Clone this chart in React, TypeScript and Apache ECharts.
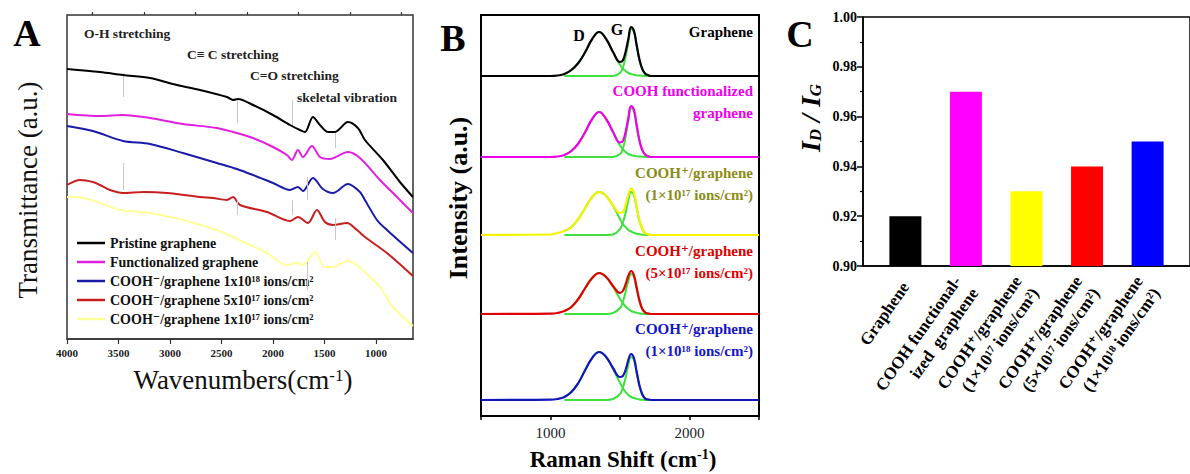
import React, { useEffect, useRef } from 'react';
import * as echarts from 'echarts';

const SERIF = '"Liberation Serif", "Times New Roman", "DejaVu Serif", serif';

// ---------------- Panel A (FTIR) ----------------
const A_NAMES = [
  'Pristine graphene',
  'Functionalized graphene',
  'COOH⁻/graphene 1x10¹⁸ ions/cm²',
  'COOH⁻/graphene 5x10¹⁷ ions/cm²',
  'COOH⁻/graphene 1x10¹⁷ ions/cm²',
];
const A_COLORS = ['#000000', '#e020e0', '#1a1aaa', '#c81e1e', '#ffff99'];
const A_PRISTINE = [[4000,270],[3680,267],[3456,264],[3194,261],[2932,254],[2709,249],[2447,242],[2388,239],[2340,240],[2194,234],[2000,224],[1835,214],[1738,209],[1689,207],[1612,222],[1544,214],[1466,207],[1398,207],[1272,217],[1175,211],[1107,199],[932,179],[767,157],[641,142]];
const A_FUNCTIONALIZED = [[4000,225],[3680,223],[3456,224],[3194,221],[2874,215],[2544,211],[2388,207],[2194,201],[2000,192],[1864,184],[1816,179],[1757,189],[1709,182],[1621,193],[1544,182],[1447,180],[1272,187],[1155,181],[961,159],[796,142],[641,126]];
const A_1E18 = [[4000,213],[3748,208],[3456,198],[3194,195],[2874,186],[2544,176],[2350,170],[2194,164],[2000,156],[1835,149],[1757,152],[1709,148],[1612,161],[1515,150],[1417,146],[1272,155],[1155,147],[1107,139],[990,119],[893,109],[641,86]];
const A_5E17 = [[4000,154],[3874,159],[3748,157],[3680,154],[3583,149],[3456,146],[3252,147],[3029,146],[2709,142],[2583,141],[2447,139],[2388,142],[2320,134],[2058,127],[1835,118],[1757,122],[1660,116],[1573,129],[1495,117],[1417,114],[1282,116],[1184,109],[1107,102],[893,86],[641,63]];
const A_1E17 = [[4000,142],[3835,141],[3680,136],[3485,129],[3194,126],[2874,119],[2544,109],[2388,102],[2223,94],[2058,86],[1864,74],[1767,76],[1709,74],[1592,87],[1495,72],[1417,72],[1272,78],[1155,72],[1107,67],[961,52],[835,32],[641,13]];
const A_TICK_LABELS = [4000, 3500, 3000, 2500, 2000, 1500, 1000];
const A_MINOR_TICKS = [3750, 3250, 2750, 2250, 1750, 1250, 750];
// grey guide markers: [wavenumber, from, to]
const A_MARKERS = [[3456,266,242],[3456,176,149],[2350,239,216],[2350,139,124],[1816,239,212],[1816,139,124],[1670,162,139],[1670,77,49],[1398,207,191],[1398,121,99]];
const A_NOTES = ['O-H stretching', 'C≡ C stretching', 'C=O stretching', 'skeletal vibration'];

// ---------------- Panel B (Raman) ----------------
const B_X = [1000,1050,1100,1150,1200,1250,1300,1350,1400,1450,1500,1520,1540,1560,1580,1600,1620,1640,1660,1680,1700,1725];
const B_D_GRAPHENE = [0,0.5,2,6,13,24,37,44,37,24,11,7.5,5,3,2,1.2,0.7,0.4,0.2,0.1,0,0];
const B_G_GRAPHENE = [0,0,0,0,0,0,0,0,0,0,3,8,19,34,47,44,30,16,7,2.5,1,0];
const B_D_COOH = [0,0.5,2,6,13.5,25,38,45,38,25,11.5,8,5,3,2,1.2,0.7,0.4,0.2,0.1,0,0];
const B_G_COOH = [0,0,0,0,0,0,0,0,0,0,3,8,20,36,49,46,31,16,7,2.5,1,0];
const B_D_1E17 = [0.5,2,4,8,16,27,38,43,39,29,16,11,8,5,3.5,2.2,1.3,0.7,0.3,0.1,0,0];
const B_G_1E17 = [0,0,0,0,0,0,0,0,0,0.5,6,12,22,35,43,40,27,14,6,2,0.5,0];
const B_D_5E17 = [0.3,1,3,7,15,26,36,41,37,27,15,11,7.5,5,3,2,1.2,0.6,0.3,0.1,0,0];
const B_G_5E17 = [0,0,0,0,0,0,0,0,0,1,6,12,22,33,40,37,25,13,5,1.5,0.5,0];
const B_D_1E18 = [0.3,1,3,8,17,30,42,48,43,31,17,12,8,5,3,2,1.2,0.6,0.3,0.1,0,0];
const B_G_1E18 = [0,0,0,0,0,0,0,0,0,1,6,12,22,35,43,40,27,14,5.5,1.5,0.5,0];
const B_OFFSETS = [340, 259, 181, 102, 16];
const B_COLORS = ['#000000', '#ee00ee', '#f4f400', '#e00000', '#1414c0'];
const B_TEXT_COLORS = ['#000000', '#ee00ee', '#8c8c14', '#e00000', '#1414c8'];
const B_LABELS = [
  ['Graphene'],
  ['COOH functionalized', 'graphene'],
  ['COOH⁺/graphene', '(1×10¹⁷ ions/cm²)'],
  ['COOH⁺/graphene', '(5×10¹⁷ ions/cm²)'],
  ['COOH⁺/graphene', '(1×10¹⁸ ions/cm²)'],
];
const B_TICK_LABELS = [1000, 2000];

// ---------------- Panel C (ID/IG) ----------------
const C_LABELS = [
  'Graphene',
  'COOH functional-\nized  graphene',
  'COOH⁺/graphene\n(1×10¹⁷ ions/cm²)',
  'COOH⁺/graphene\n(5×10¹⁷ ions/cm²)',
  'COOH⁺/graphene\n(1×10¹⁸ ions/cm²)',
];
const C_VALUES = [0.92, 0.97, 0.93, 0.94, 0.95];
const C_COLORS = ['#000000', '#ff00ff', '#ffff00', '#ff0000', '#0000ff'];

function buildOption() {
  const aData = [A_PRISTINE, A_FUNCTIONALIZED, A_1E18, A_5E17, A_1E17];
  const aSeries: any[] = aData.map((d, i) => ({
    type: 'line',
    name: A_NAMES[i],
    xAxisIndex: 0,
    yAxisIndex: 0,
    data: d,
    symbol: 'none',
    smooth: 0.3,
    lineStyle: { color: A_COLORS[i], width: 2 },
    itemStyle: { color: A_COLORS[i] },
    z: 5 - i,
    ...(i === 0
      ? {
          markLine: {
            silent: true,
            symbol: ['none', 'none'],
            label: { show: false },
            lineStyle: { color: '#c8c8c8', width: 1, type: 'solid' },
            data: A_MARKERS.map(([x, a, b]) => [{ coord: [x, a] }, { coord: [x, b] }]),
          },
        }
      : {}),
  }));

  const bSpectra = [
    { d: B_D_GRAPHENE, g: B_G_GRAPHENE },
    { d: B_D_COOH, g: B_G_COOH },
    { d: B_D_1E17, g: B_G_1E17 },
    { d: B_D_5E17, g: B_G_5E17 },
    { d: B_D_1E18, g: B_G_1E18 },
  ];
  const bSeries: any[] = [];
  bSpectra.forEach((sp, i) => {
    const off = B_OFFSETS[i];
    const env = [[500, off], ...B_X.map((x, k) => [x, off + sp.d[k] + sp.g[k]]), [2500, off]];
    const dC = B_X.slice(2).map((x, k) => [x, off + sp.d[k + 2]]);
    const gC = B_X.slice(2).map((x, k) => [x, off + sp.g[k + 2]]);
    const common = { type: 'line', xAxisIndex: 2, yAxisIndex: 1, symbol: 'none', smooth: 0.45 };
    bSeries.push({ ...common, name: 'bd' + i, data: dC, lineStyle: { color: '#3de03d', width: 2 }, z: 2 });
    bSeries.push({ ...common, name: 'bg' + i, data: gC, lineStyle: { color: '#3de03d', width: 2 }, z: 2 });
    bSeries.push({ ...common, name: 'be' + i, data: env, lineStyle: { color: B_COLORS[i], width: 2.2 }, z: 3 });
  });

  const cSeries = {
    type: 'bar',
    name: 'ratio',
    xAxisIndex: 3,
    yAxisIndex: 2,
    barWidth: 32,
    data: C_VALUES.map((v, i) => ({ value: [i + 1, v], itemStyle: { color: C_COLORS[i] } })),
  };

  const graphic: any[] = [];
  const letter = (t: string, x: number, y: number) => ({
    type: 'text', x, y,
    style: { text: t, fontFamily: SERIF, fontWeight: 'bold', fontSize: 38, fill: '#000', align: 'center', verticalAlign: 'middle' },
  });
  graphic.push(letter('A', 27, 33), letter('B', 453, 38), letter('C', 800, 34));
  // Panel A titles
  graphic.push({
    type: 'text', x: 28, y: 190, rotation: Math.PI / 2,
    style: { text: 'Transmittance (a.u.)', fontFamily: SERIF, fontSize: 27, fill: '#111', align: 'center', verticalAlign: 'middle' },
  });
  graphic.push({
    type: 'text', x: 243, y: 380,
    style: {
      text: '{n|Wavenumbers(cm}{s|-1}{n|)}', align: 'center', verticalAlign: 'middle',
      rich: {
        n: { fontFamily: SERIF, fontSize: 27, fill: '#111' },
        s: { fontFamily: SERIF, fontSize: 17, fill: '#111', verticalAlign: 'top' },
      },
    },
  });
  const notePos = [[84, 33], [187, 54], [250, 75], [297, 97]];
  A_NOTES.forEach((t, i) => {
    graphic.push({
      type: 'text', x: notePos[i][0], y: notePos[i][1],
      style: { text: t, fontFamily: SERIF, fontWeight: 'bold', fontSize: 13.5, fill: '#222', align: 'left', verticalAlign: 'middle' },
    });
  });
  // Panel B titles
  graphic.push({
    type: 'text', x: 458, y: 198, rotation: Math.PI / 2,
    style: { text: 'Intensity (a.u.)', fontFamily: SERIF, fontWeight: 'bold', fontSize: 26, fill: '#000', align: 'center', verticalAlign: 'middle' },
  });
  graphic.push({
    type: 'text', x: 623, y: 459,
    style: {
      text: '{n|Raman Shift (cm}{s|-1}{n|)}', align: 'center', verticalAlign: 'middle',
      rich: {
        n: { fontFamily: SERIF, fontWeight: 'bold', fontSize: 23, fill: '#000' },
        s: { fontFamily: SERIF, fontWeight: 'bold', fontSize: 14, fill: '#000', verticalAlign: 'top' },
      },
    },
  });
  const bLabelY = [32, 91, 173, 251, 329];
  B_LABELS.forEach((lines, i) => {
    lines.forEach((t, j) => {
      graphic.push({
        type: 'text', x: 753, y: bLabelY[i] + j * 22,
        style: { text: t, fontFamily: SERIF, fontWeight: 'bold', fontSize: 15, fill: B_TEXT_COLORS[i], align: 'right', verticalAlign: 'middle' },
      });
    });
  });
  graphic.push({
    type: 'text', x: 579, y: 35,
    style: { text: 'D', fontFamily: SERIF, fontWeight: 'bold', fontSize: 16, fill: '#000', align: 'center', verticalAlign: 'middle' },
  });
  graphic.push({
    type: 'text', x: 617, y: 29,
    style: { text: 'G', fontFamily: SERIF, fontWeight: 'bold', fontSize: 16, fill: '#000', align: 'center', verticalAlign: 'middle' },
  });
  // Panel C title
  graphic.push({
    type: 'text', x: 810, y: 118, rotation: Math.PI / 2,
    style: {
      text: '{i|I}{d|D}{i| / I}{d|G}', align: 'center', verticalAlign: 'middle',
      rich: {
        i: { fontFamily: SERIF, fontWeight: 'bold', fontStyle: 'italic', fontSize: 28, fill: '#000' },
        d: { fontFamily: SERIF, fontWeight: 'bold', fontStyle: 'italic', fontSize: 17, fill: '#000', verticalAlign: 'bottom' },
      },
    },
  });

  return {
    animation: false,
    backgroundColor: '#ffffff',
    legend: {
      data: A_NAMES.map((n) => ({ name: n, icon: 'rect' })),
      orient: 'vertical',
      left: 72,
      top: 230,
      itemWidth: 28,
      itemHeight: 2.5,
      itemGap: 3,
      selectedMode: false,
      textStyle: { fontFamily: SERIF, fontWeight: 'bold', fontSize: 14, color: '#111', lineHeight: 16 },
    },
    grid: [
      { left: 67, top: 15, width: 346, height: 324, show: true, borderColor: '#333', borderWidth: 1.5, backgroundColor: 'transparent' },
      { left: 481, top: 15, width: 278, height: 401, show: true, borderColor: '#000', borderWidth: 2, backgroundColor: 'transparent' },
      { left: 863, top: 17, width: 340, height: 249, show: true, borderColor: '#000', borderWidth: 1.5, backgroundColor: 'transparent' },
    ],
    xAxis: [
      {
        gridIndex: 0, type: 'value', min: 640, max: 4000, inverse: true,
        axisLine: { show: true, lineStyle: { color: '#333', width: 1.5 } },
        axisTick: { show: true, customValues: A_TICK_LABELS, length: 5, lineStyle: { color: '#333', width: 1.2 } },
        axisLabel: {
          customValues: A_TICK_LABELS, formatter: (v: number) => String(v),
          fontFamily: SERIF, fontWeight: 'bold', fontSize: 11, color: '#222', margin: 8,
        },
        splitLine: { show: false },
      },
      {
        gridIndex: 0, type: 'value', min: 640, max: 4000, inverse: true,
        axisLine: { show: false },
        axisTick: { show: true, customValues: A_MINOR_TICKS, length: 3, lineStyle: { color: '#333', width: 1.2 } },
        axisLabel: { show: false },
        splitLine: { show: false },
      },
      {
        gridIndex: 1, type: 'value', min: 500, max: 2500, interval: 500,
        axisLine: { show: true, lineStyle: { color: '#000', width: 2 } },
        axisTick: { show: true, length: 4, lineStyle: { color: '#000', width: 1.5 } },
        axisLabel: {
          formatter: (v: number) => (B_TICK_LABELS.includes(v) ? String(v) : ''),
          fontFamily: SERIF, fontSize: 15, color: '#222', margin: 9,
        },
        splitLine: { show: false },
      },
      {
        gridIndex: 2, type: 'value', min: 0.3, max: 5.7,
        axisLine: { show: true, lineStyle: { color: '#000', width: 1.5 } },
        axisTick: { show: false },
        axisLabel: {
          customValues: [1, 2, 3, 4, 5],
          formatter: (v: number) => C_LABELS[Math.round(v) - 1] || '',
          rotate: 55, margin: 18,
          fontFamily: SERIF, fontWeight: 'bold', fontSize: 17, lineHeight: 21, color: '#000',
        },
        splitLine: { show: false },
      },
    ],
    yAxis: [
      { gridIndex: 0, type: 'value', min: 0, max: 324, show: false },
      { gridIndex: 1, type: 'value', min: 0, max: 401, show: false },
      {
        gridIndex: 2, type: 'value', min: 0.9, max: 1.0, interval: 0.02,
        axisLine: { show: true, lineStyle: { color: '#000', width: 1.5 } },
        axisTick: { show: true, length: 6, lineStyle: { color: '#000', width: 1.5 } },
        minorTick: { show: true, splitNumber: 2, length: 3, lineStyle: { color: '#000', width: 1.2 } },
        axisLabel: {
          formatter: (v: number) => v.toFixed(2),
          fontFamily: SERIF, fontWeight: 'bold', fontSize: 14, color: '#000', margin: 6,
        },
        splitLine: { show: false },
      },
    ],
    series: [...aSeries, ...bSeries, cSeries],
    graphic,
  };
}

export default function App() {
  const ref = useRef<HTMLDivElement>(null);
  useEffect(() => {
    if (!ref.current) return;
    const chart = echarts.init(ref.current, null, { renderer: 'svg' });
    chart.setOption(buildOption() as any);
    return () => chart.dispose();
  }, []);
  return (
    <div
      ref={ref}
      style={{ position: 'fixed', left: 0, top: 0, width: 1190, height: 474, background: '#fff' }}
    />
  );
}
